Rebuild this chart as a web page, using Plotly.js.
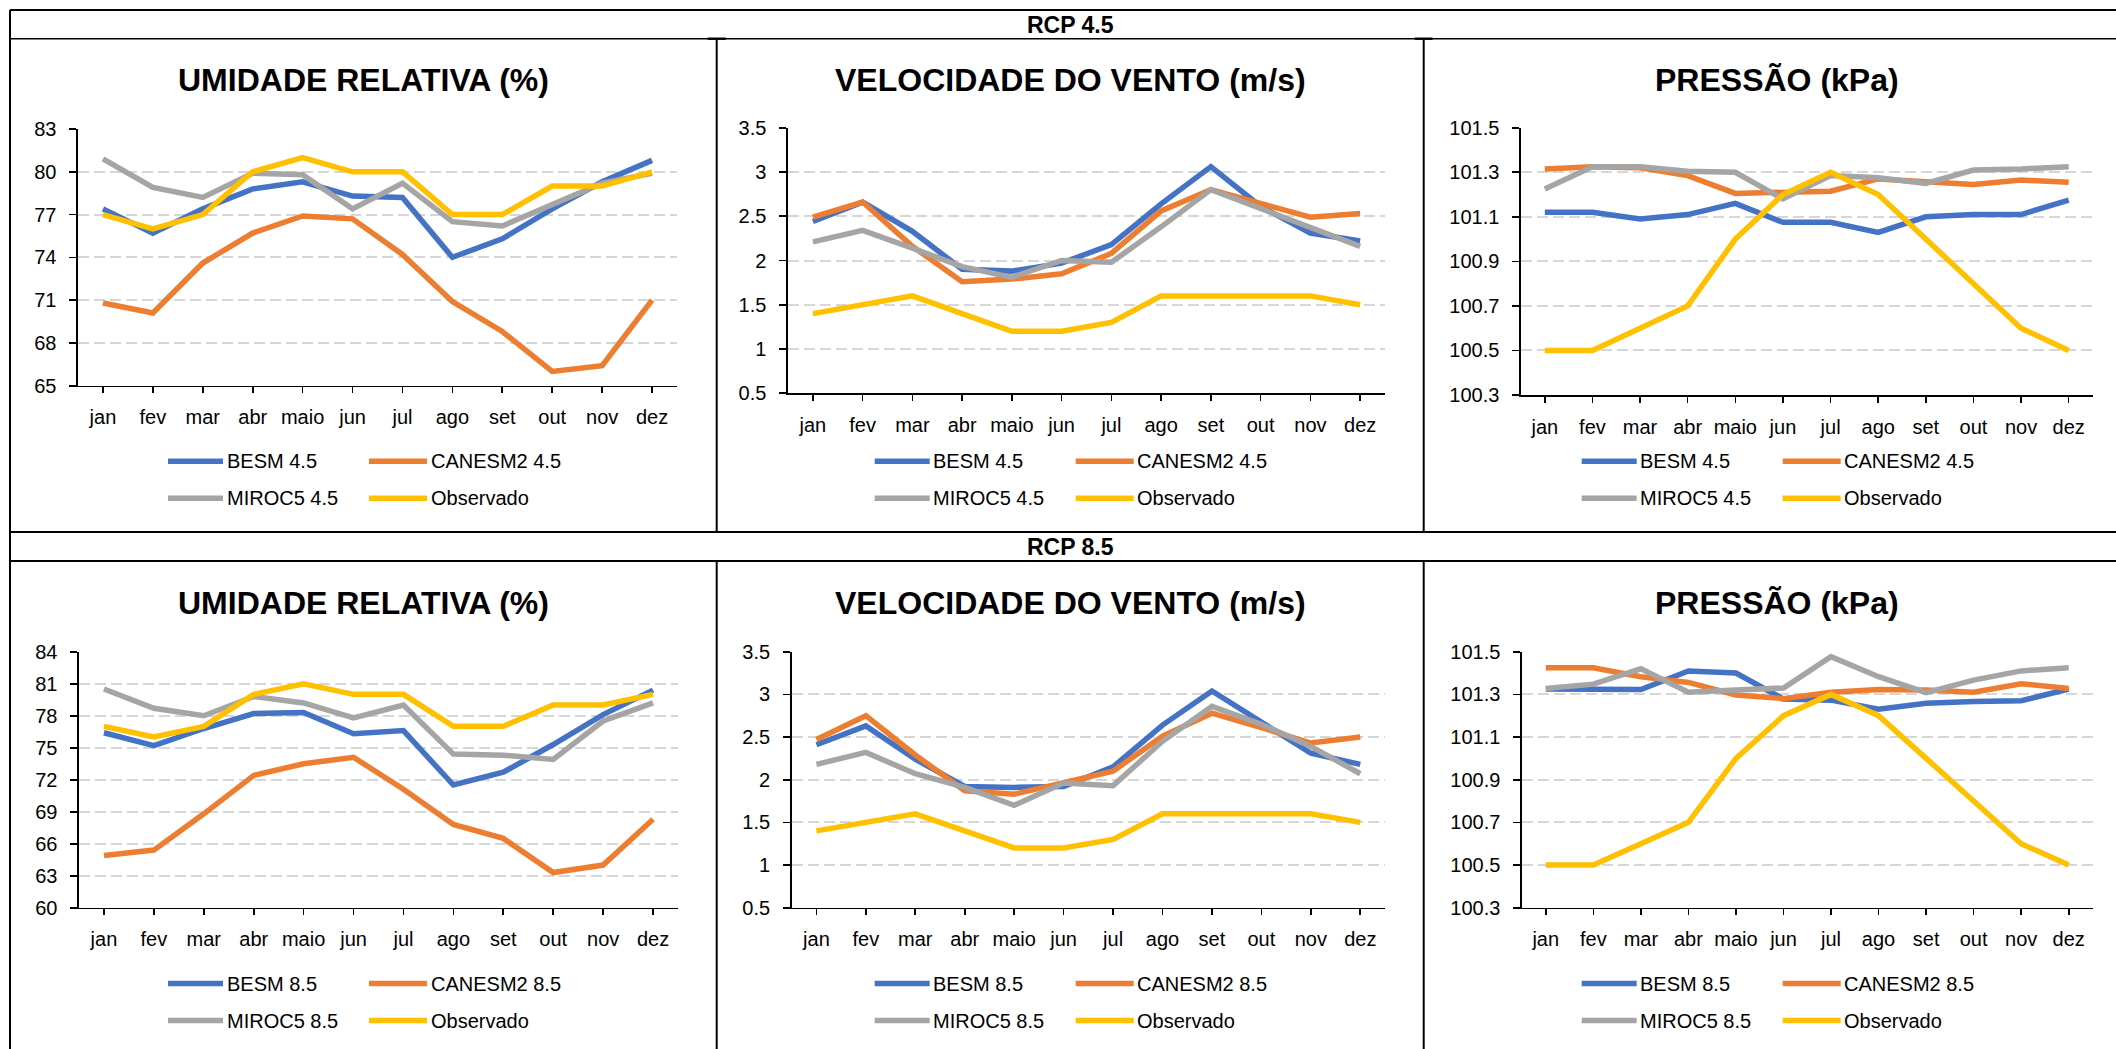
<!DOCTYPE html>
<html>
<head>
<meta charset="utf-8">
<script src="https://cdn.plot.ly/plotly-3.0.1.min.js"></script>
<style>
  html, body { margin: 0; padding: 0; background: #ffffff; }
  #chart { width: 2116px; height: 1049px; }
</style>
</head>
<body>
<div id="chart"></div>
<script>
// Month categories
const months = ['jan', 'fev', 'mar', 'abr', 'maio', 'jun', 'jul', 'ago', 'set', 'out', 'nov', 'dez'];

// Headers and chart titles
const scenarioHeaders = ['RCP 4.5', 'RCP 8.5'];
const chartTitles = ['UMIDADE RELATIVA (%)', 'VELOCIDADE DO VENTO (m/s)', 'PRESSÃO (kPa)'];

// Series names
const names45 = ['BESM 4.5', 'CANESM2 4.5', 'MIROC5 4.5', 'Observado'];
const names85 = ['BESM 8.5', 'CANESM2 8.5', 'MIROC5 8.5', 'Observado'];

// Observed monthly values
const umidObs    = [77, 76, 77, 80, 81, 80, 80, 77, 77, 79, 79, 80];
const ventoObs   = [1.4, 1.5, 1.6, 1.4, 1.2, 1.2, 1.3, 1.6, 1.6, 1.6, 1.6, 1.5];
const pressaoObs = [100.5, 100.5, 100.6, 100.7, 101.0, 101.2, 101.3, 101.2, 101.0, 100.8, 100.6, 100.5];

// RCP 4.5 — relative humidity (%)
const umid45Besm   = [77.4, 75.7, 77.4, 78.8, 79.3, 78.3, 78.2, 74.0, 75.3, 77.4, 79.3, 80.8];
const umid45Canesm = [70.8, 70.1, 73.6, 75.7, 76.9, 76.7, 74.2, 70.9, 68.8, 66.0, 66.4, 71.0];
const umid45Miroc  = [80.9, 78.9, 78.2, 79.9, 79.8, 77.4, 79.2, 76.5, 76.2, 77.7, 79.2, 79.9];

// RCP 4.5 — wind speed (m/s)
const vento45Besm   = [2.44, 2.66, 2.33, 1.90, 1.88, 1.97, 2.18, 2.64, 3.06, 2.61, 2.31, 2.22];
const vento45Canesm = [2.49, 2.66, 2.16, 1.76, 1.79, 1.85, 2.08, 2.56, 2.80, 2.65, 2.49, 2.53];
const vento45Miroc  = [2.21, 2.34, 2.14, 1.93, 1.81, 2.00, 1.98, 2.38, 2.80, 2.59, 2.38, 2.16];

// RCP 4.5 — pressure (kPa)
const pressao45Besm   = [101.12, 101.12, 101.09, 101.11, 101.16, 101.075, 101.075, 101.03, 101.10, 101.11, 101.11, 101.175];
const pressao45Canesm = [101.315, 101.325, 101.32, 101.285, 101.205, 101.21, 101.215, 101.27, 101.255, 101.245, 101.265, 101.255];
const pressao45Miroc  = [101.225, 101.325, 101.325, 101.305, 101.30, 101.18, 101.285, 101.275, 101.25, 101.31, 101.315, 101.325];

// RCP 8.5 — relative humidity (%)
const umid85Besm   = [76.4, 75.2, 76.8, 78.2, 78.3, 76.3, 76.6, 71.5, 72.7, 75.3, 78.1, 80.4];
const umid85Canesm = [64.9, 65.4, 68.8, 72.4, 73.5, 74.1, 71.1, 67.8, 66.5, 63.3, 64.0, 68.3];
const umid85Miroc  = [80.5, 78.7, 78.0, 79.8, 79.2, 77.8, 79.0, 74.4, 74.3, 73.9, 77.5, 79.2];

// RCP 8.5 — wind speed (m/s)
const vento85Besm   = [2.41, 2.63, 2.24, 1.92, 1.91, 1.92, 2.15, 2.64, 3.04, 2.68, 2.31, 2.18];
const vento85Canesm = [2.47, 2.75, 2.29, 1.87, 1.83, 1.97, 2.10, 2.51, 2.78, 2.61, 2.43, 2.50];
const vento85Miroc  = [2.18, 2.32, 2.07, 1.91, 1.70, 1.96, 1.93, 2.45, 2.86, 2.65, 2.39, 2.07];

// RCP 8.5 — pressure (kPa)
const pressao85Besm   = [101.325, 101.323, 101.323, 101.41, 101.40, 101.278, 101.273, 101.23, 101.258, 101.266, 101.27, 101.325];
const pressao85Canesm = [101.425, 101.425, 101.383, 101.356, 101.297, 101.28, 101.31, 101.323, 101.32, 101.31, 101.35, 101.328];
const pressao85Miroc  = [101.328, 101.348, 101.42, 101.31, 101.32, 101.33, 101.477, 101.383, 101.308, 101.367, 101.41, 101.425];

// ---------------------------------------------------------------------------
const W = 2116, H = 1049;
const FONT = 'Liberation Sans, Arial, Helvetica, sans-serif';
const colors = ['#4472C4', '#ED7D31', '#A5A5A5', '#FFC000'];
const LINE_W = 5.5;

const px = v => v / W;            // pixel -> paper x
const py = v => 1 - v / H;        // pixel -> paper y

// Table frame
const colLeft = [10, 716.7, 1423.7];
const colWidth = 707;
const rowTop = [38.7, 561];
const headerMid = [24.5, 546.5];

const panels = [
  { series: [umid45Besm, umid45Canesm, umid45Miroc, umidObs], names: names45, range: [65, 83], dtick: 3, fmt: '',
    col: 0, row: 0, box: [78, 677, 129, 385.7] },
  { series: [vento45Besm, vento45Canesm, vento45Miroc, ventoObs], names: names45, range: [0.5, 3.5], dtick: 0.5, fmt: '',
    col: 1, row: 0, box: [788, 1385, 127.7, 393.3] },
  { series: [pressao45Besm, pressao45Canesm, pressao45Miroc, pressaoObs], names: names45, range: [100.3, 101.5], dtick: 0.2, fmt: '.1f',
    col: 2, row: 0, box: [1521, 2092.5, 127.7, 395] },
  { series: [umid85Besm, umid85Canesm, umid85Miroc, umidObs], names: names85, range: [60, 84], dtick: 3, fmt: '',
    col: 0, row: 1, box: [79, 678, 651.7, 907.7] },
  { series: [vento85Besm, vento85Canesm, vento85Miroc, ventoObs], names: names85, range: [0.5, 3.5], dtick: 0.5, fmt: '',
    col: 1, row: 1, box: [791.7, 1385, 651.7, 907.7] },
  { series: [pressao85Besm, pressao85Canesm, pressao85Miroc, pressaoObs], names: names85, range: [100.3, 101.5], dtick: 0.2, fmt: '.1f',
    col: 2, row: 1, box: [1522, 2092.5, 651.7, 907.7] }
];

const traces = [];
const layout = {
  width: W, height: H,
  margin: { l: 0, r: 0, t: 0, b: 0, pad: 0 },
  paper_bgcolor: '#ffffff',
  plot_bgcolor: 'rgba(0,0,0,0)',
  showlegend: false,
  font: { family: FONT, color: '#000000', size: 20 },
  shapes: [],
  annotations: []
};

panels.forEach((p, i) => {
  const k = i === 0 ? '' : String(i + 1);
  const [x0, x1, y0, y1] = p.box;

  p.series.forEach((ys, j) => {
    traces.push({
      type: 'scatter', mode: 'lines',
      x: months, y: ys, name: p.names[j],
      xaxis: 'x' + k, yaxis: 'y' + k,
      line: { color: colors[j], width: LINE_W },
      hoverinfo: 'x+y+name'
    });
  });

  layout['xaxis' + k] = {
    type: 'category', anchor: 'y' + k,
    domain: [px(x0), px(x1)], range: [-0.5, 11.5],
    showline: true, linecolor: '#000000', linewidth: 1.6,
    ticks: 'outside', ticklen: 6, tickwidth: 1.6, tickcolor: '#000000',
    ticklabelstandoff: 7,
    tickfont: { family: FONT, size: 20, color: '#000000' },
    showgrid: false, zeroline: false, fixedrange: true
  };
  layout['yaxis' + k] = {
    anchor: 'x' + k,
    domain: [py(y1), py(y0)], range: p.range,
    tick0: p.range[0], dtick: p.dtick, tickformat: p.fmt,
    showline: true, linecolor: '#000000', linewidth: 1.6,
    ticks: 'outside', ticklen: 7, tickwidth: 1.6, tickcolor: '#000000',
    ticklabelstandoff: 9,
    tickfont: { family: FONT, size: 20, color: '#000000' },
    showgrid: true, gridcolor: '#D6D6D6', gridwidth: 2, griddash: '11px,5px',
    zeroline: false, fixedrange: true
  };

  // Chart title
  const cl = colLeft[p.col], rt = rowTop[p.row];
  layout.annotations.push({
    xref: 'paper', yref: 'paper', x: px(cl + colWidth / 2), y: py(rt + 41.5),
    xanchor: 'center', yanchor: 'middle', showarrow: false,
    text: chartTitles[p.col],
    font: { family: FONT, size: 32, color: '#000000', weight: 700 }
  });

  // Legend: two columns, two rows
  const legendCols = [[158, 213], [359, 417]];
  const legendRows = [422.5, 459.5];
  p.names.forEach((nm, j) => {
    const c = legendCols[j % 2], r = legendRows[Math.floor(j / 2)];
    layout.shapes.push({
      type: 'line', xref: 'paper', yref: 'paper',
      x0: px(cl + c[0]), x1: px(cl + c[1]), y0: py(rt + r), y1: py(rt + r),
      line: { color: colors[j], width: LINE_W }
    });
    layout.annotations.push({
      xref: 'paper', yref: 'paper', x: px(cl + c[1] + 1.5), y: py(rt + r),
      xanchor: 'left', yanchor: 'middle', showarrow: false,
      text: nm, font: { family: FONT, size: 20, color: '#000000' }
    });
  });
});

// Scenario headers
scenarioHeaders.forEach((h, r) => {
  layout.annotations.push({
    xref: 'paper', yref: 'paper', x: px(colLeft[1] + colWidth / 2), y: py(headerMid[r]),
    xanchor: 'center', yanchor: 'middle', showarrow: false,
    text: h, font: { family: FONT, size: 23, color: '#000000', weight: 700 }
  });
});

// Table borders
function hLine(y, xa, xb, w) {
  layout.shapes.push({ type: 'line', xref: 'paper', yref: 'paper',
    x0: px(xa), x1: px(xb), y0: py(y), y1: py(y), line: { color: '#000000', width: w } });
}
function vLine(x, ya, yb, w) {
  layout.shapes.push({ type: 'line', xref: 'paper', yref: 'paper',
    x0: px(x), x1: px(x), y0: py(ya), y1: py(yb), line: { color: '#000000', width: w } });
}
hLine(10, 10, W + 20, 2.2);
vLine(10, 10, H + 20, 2);
hLine(rowTop[0], 10, W + 20, 1.6);
hLine(532, 10, W + 20, 2);
hLine(rowTop[1], 10, W + 20, 2);
[colLeft[1], colLeft[2]].forEach(x => {
  vLine(x, rowTop[0], 532, 2);
  vLine(x, rowTop[1], H + 20, 2);
  hLine(rowTop[0], x - 9, x + 9, 2.4);
});

Plotly.newPlot('chart', traces, layout, { staticPlot: true, displayModeBar: false });
</script>
</body>
</html>
